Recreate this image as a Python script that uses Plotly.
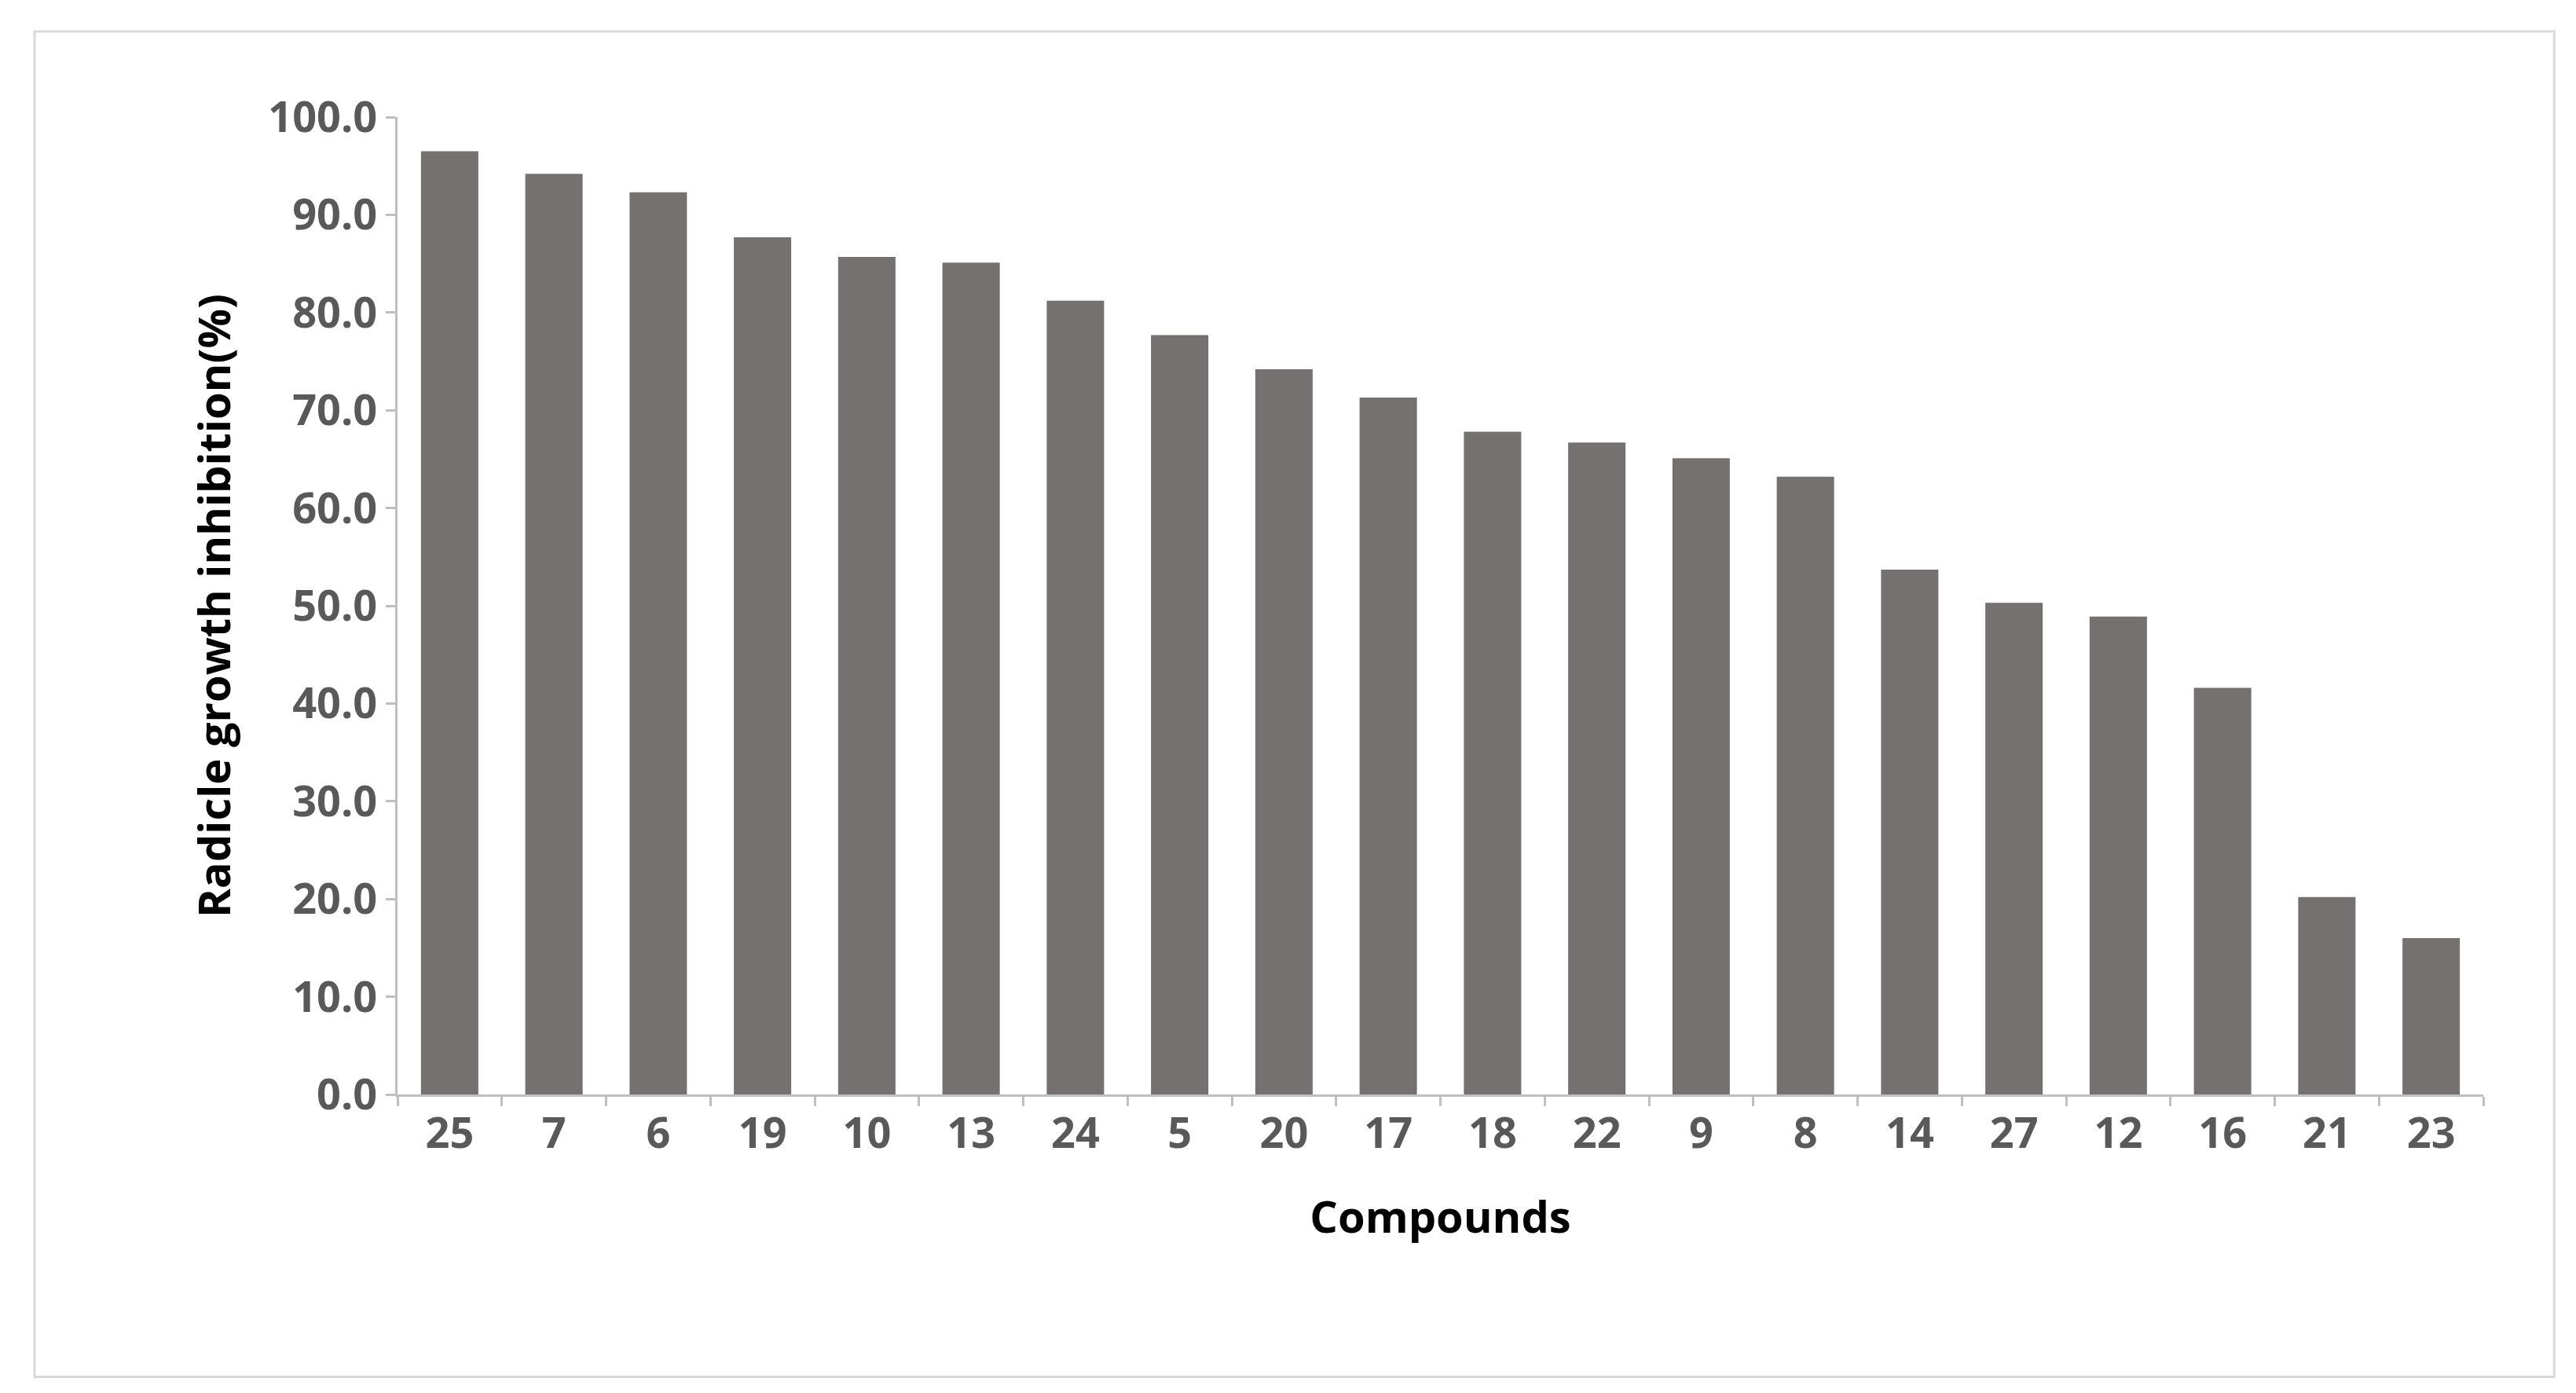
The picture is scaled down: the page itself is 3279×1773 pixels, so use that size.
import plotly.graph_objects as go

# Data
compounds = ["25", "7", "6", "19", "10", "13", "24", "5", "20", "17",
             "18", "22", "9", "8", "14", "27", "12", "16", "21", "23"]
inhibition = [96.5, 94.2, 92.3, 87.7, 85.7, 85.1, 81.2, 77.7, 74.2, 71.3,
              67.8, 66.7, 65.1, 63.2, 53.7, 50.3, 48.9, 41.6, 20.2, 16.0]

font_family = "Open Sans"
tick_color = "#595959"
axis_color = "#bfbfbf"

fig = go.Figure()
fig.add_trace(go.Bar(x=compounds, y=inhibition, marker=dict(color="#767171", line=dict(width=0))))

fig.update_layout(
    width=3279, height=1773,
    paper_bgcolor="white", plot_bgcolor="white",
    margin=dict(l=498, r=126, t=141, b=388),
    bargap=0.45,
    showlegend=False,
    font=dict(family=font_family),
)

fig.update_xaxes(
    type="category",
    showline=True, linecolor=axis_color, linewidth=3,
    ticks="outside", tickson="boundaries", ticklen=12, tickcolor=axis_color, tickwidth=3,
    tickfont=dict(size=54, color=tick_color, family=font_family, weight="bold"),
    title=dict(text="<b>Compounds</b>", font=dict(size=56, color="black", family=font_family), standoff=55),
    showgrid=False,
)
fig.update_yaxes(
    range=[0, 100], dtick=10, tickformat=".1f",
    showline=True, linecolor=axis_color, linewidth=3,
    ticks="outside", ticklen=12, tickcolor=axis_color, tickwidth=3,
    tickfont=dict(size=54, color=tick_color, family=font_family, weight="bold"),
    title=dict(text="<b>Radicle growth inhibition(%)</b>", font=dict(size=56, color="black", family=font_family), standoff=30),
    showgrid=False, zeroline=False,
)

# outer frame
fig.add_shape(type="rect", xref="paper", yref="paper",
              x0=-0.174, x1=1.034, y0=-0.289, y1=1.0876,
              line=dict(color="#d9d9d9", width=3), fillcolor="rgba(0,0,0,0)")

fig.write_html("out.html")
